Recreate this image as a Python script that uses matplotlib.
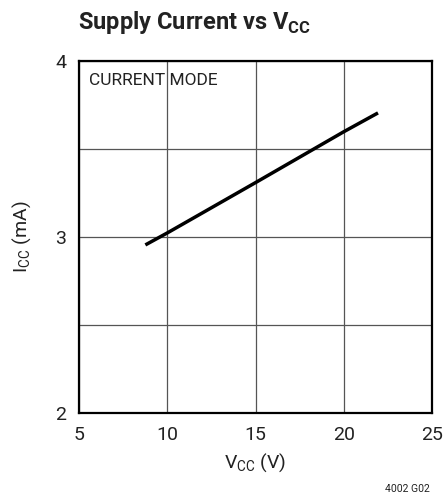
import numpy as np
import matplotlib.pyplot as plt

# Supply current vs supply voltage
vcc = [8.76, 10, 15, 20, 21.94]
icc = [2.955, 3.023, 3.309, 3.598, 3.705]

x_ticks = [5, 10, 15, 20, 25]
y_ticks = [2, 3, 4]

plt.rcParams['font.family'] = ['Roboto', 'DejaVu Sans']

fig = plt.figure(figsize=(4.43, 4.95), dpi=100)
ax = fig.add_axes([79/443, 1 - 413/495, 353/443, 352/495])

ax.plot(vcc, icc, color='black', lw=2.5, solid_capstyle='butt')

ax.set_xlim(5, 25)
ax.set_ylim(2, 4)
ax.set_xticks(x_ticks)
ax.set_yticks(y_ticks)
ax.set_yticks([2.5, 3.5], minor=True)
ax.grid(True, which='both', color='#555555', lw=0.9)
ax.tick_params(which='both', length=0, labelsize=14, pad=9, colors='#222222')
for s in ax.spines.values():
    s.set_linewidth(1.6)
    s.set_color('black')

ax.set_xlabel(r'V$_{\mathregular{CC}}$ (V)', fontsize=14, labelpad=6, color='#222222')
ax.set_ylabel(r'I$_{\mathregular{CC}}$ (mA)', fontsize=14, labelpad=16, color='#222222')

ax.text(0.027, 0.965, 'CURRENT MODE', transform=ax.transAxes, ha='left', va='top',
        fontsize=12.5, color='#222222')

fig.text(78/443, 1 - 22/495, r'Supply Current vs V$_{\mathregular{CC}}$', ha='left', va='center',
         fontsize=17, fontweight='bold', color='#222222')
fig.text(430/443, 1 - 489/495, '4002 G02', ha='right', va='center', fontsize=7.5, color='#222222')

fig.savefig('out.png', dpi=100)
